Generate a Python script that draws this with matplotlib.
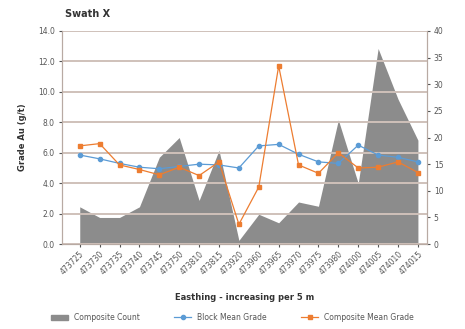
import numpy as np
import matplotlib.pyplot as plt

eastings = ['473725', '473730', '473735', '473740', '473745', '473750',
            '473810', '473815', '473920', '473960', '473965', '473970',
            '473975', '473980', '474000', '474005', '474010', '474015']
composite_count = [7.0, 5.0, 5.0, 7.0, 16.3, 20.0, 8.2, 17.6, 0.7, 5.6,
                   4.0, 7.9, 7.1, 23.3, 11.4, 36.7, 27.2, 19.5]
block_mean = [5.85, 5.6, 5.3, 5.05, 4.95, 5.1, 5.25, 5.2, 5.0, 6.45,
              6.55, 5.9, 5.4, 5.3, 6.5, 5.85, 5.7, 5.4]
comp_mean = [6.45, 6.6, 5.2, 4.9, 4.55, 5.05, 4.5, 5.4, 1.3, 3.75,
             11.7, 5.2, 4.65, 6.0, 5.0, 5.05, 5.4, 4.7]

x = np.arange(len(eastings))
axcol = '#b8aaa3'

fig = plt.figure(figsize=(4.65, 3.29), dpi=100)
ax = fig.add_axes([0.133, 0.258, 0.785, 0.648])
ax2 = ax.twinx()

# area on the right axis, drawn behind the lines
ax2.fill_between(x, composite_count, 0, color='#8c8c8c', lw=0, zorder=1)
ax2.set_ylim(0, 40)
ax2.set_yticks(np.arange(0, 41, 5))
ax2.tick_params(axis='y', labelsize=5.5, colors='#555555', length=2, pad=3)

ax.set_zorder(ax2.get_zorder() + 1)
ax.patch.set_visible(False)

ax.plot(x, block_mean, color='#5b9bd5', lw=0.9, marker='o', ms=3, zorder=3)
ax.plot(x, comp_mean, color='#ed7d31', lw=0.9, marker='s', ms=3.5, zorder=4)

ax.set_xlim(-0.9, 17.45)
ax.set_ylim(0, 14)
ax.set_yticks(np.arange(0, 15, 2))
ax.set_yticklabels(['%.1f' % v for v in np.arange(0, 15, 2)])
ax.yaxis.grid(True, color='#cfc1ba', lw=1.4)
ax2.yaxis.grid(False)
ax.set_xticks(x)
ax.set_xticklabels(eastings, rotation=45, ha='right', rotation_mode='anchor')
ax.tick_params(axis='x', labelsize=5.5, colors='#555555', length=2, pad=2)
ax.tick_params(axis='y', labelsize=5.5, colors='#555555', length=2, pad=3)
for a in (ax, ax2):
    a.spines['top'].set_visible(False)
    for s in ['left', 'right', 'bottom']:
        a.spines[s].set_color(axcol)
        a.spines[s].set_linewidth(0.8)

ax.set_ylabel('Grade Au (g/t)', fontsize=6, fontweight='bold', color='#333333', labelpad=8)
ax.set_xlabel('Easthing - increasing per 5 m', fontsize=6, fontweight='bold',
              color='#333333', labelpad=12)
fig.text(0.14, 0.948, 'Swath X', fontsize=7, fontweight='bold', color='#333333')

handles = [plt.Rectangle((0, 0), 1, 1, color='#8c8c8c'),
           plt.Line2D([], [], color='#5b9bd5', marker='o', ms=3, lw=0.9),
           plt.Line2D([], [], color='#ed7d31', marker='s', ms=3.5, lw=0.9)]
fig.legend(handles, ['Composite Count', 'Block Mean Grade', 'Composite Mean Grade'],
           loc='center', bbox_to_anchor=(0.5, 0.035), ncol=3, frameon=False,
           fontsize=5.5, columnspacing=4.5, handlelength=2.2, labelcolor='#555555')

fig.savefig('out.png', dpi=100, facecolor='white')
